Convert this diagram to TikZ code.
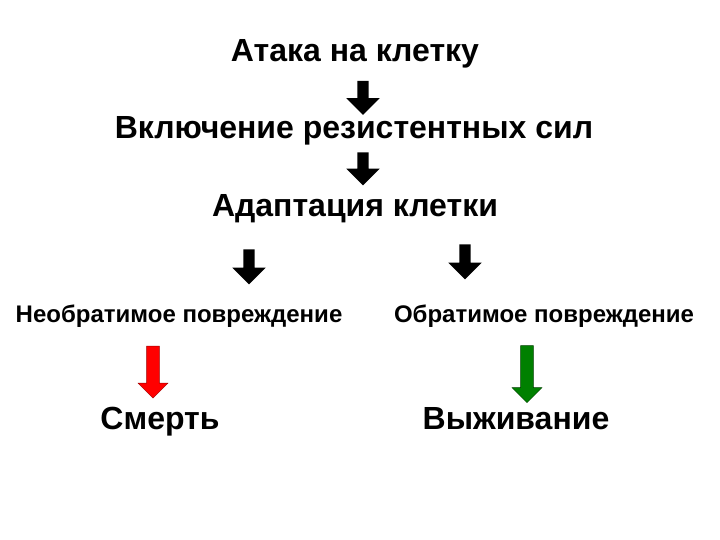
\documentclass[tikz,border=0pt]{standalone}
\usepackage{fontspec}
\setmainfont{Liberation Sans}
\usetikzlibrary{shapes.arrows}
\tikzset{>=latex}
\tikzset{
  title/.style={anchor=base, font=\bfseries\fontsize{32}{36}\selectfont},
  small/.style={anchor=base, font=\bfseries\fontsize{24}{28}\selectfont},
  blk/.style={single arrow, rotate=-90, fill=black, inner sep=5.5pt,
    minimum width=33pt, single arrow head extend=11pt},
  redarrow/.style={blk, fill=red, draw=red!60!black, inner sep=6pt,
    minimum width=30pt, single arrow head extend=8.5pt},
  greenarrow/.style={redarrow, fill=green!50!black, draw=green!25!black}
}
\begin{document}
\begin{tikzpicture}[x=1pt,y=-1pt]
            \useasboundingbox (0,0) rectangle (720,540);
            \node[title] (attack) at (355,62) {Атака на клетку};
            \node[blk, minimum height=34pt] (a1) at (363,95) {};
            \node[title] (resist) at (354,139) {Включение резистентных сил};
            \node[blk, minimum height=33pt] (a2) at (363,166) {};
            \node[title] (adapt) at (355,216) {Адаптация клетки};
            \node[blk, minimum height=35pt] (a3) at (249,264) {};
            \node[blk, minimum height=35pt] (a4) at (465,259) {};
            \node[small] (irrev) at (179,322) {Необратимое повреждение};
            \node[small] (rev) at (544,322) {Обратимое повреждение};
            \node[redarrow, minimum height=52pt] (a5) at (153,369) {};
            \node[greenarrow, minimum height=57pt] (a6) at (527,371) {};
            \node[title] (death) at (160,429) {Смерть};
            \node[title] (surv) at (516,429) {Выживание};
        \end{tikzpicture}
\end{document}
